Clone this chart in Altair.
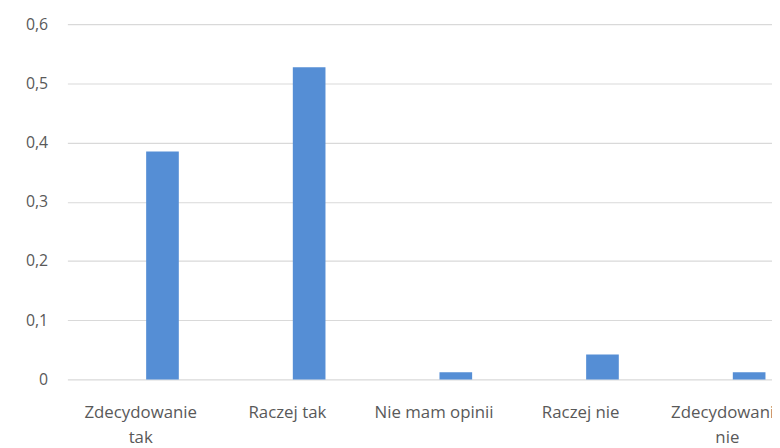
import altair as alt
import pandas as pd

categories = ["Zdecydowanie tak", "Raczej tak", "Nie mam opinii", "Raczej nie", "Zdecydowanie nie"]
values = [0.385, 0.527, 0.012, 0.042, 0.012]

df = pd.DataFrame({"kategoria": categories, "wartosc": values})

label_expr = "indexof(datum.label, 'Zdecydowanie') == 0 ? split(datum.label, ' ') : datum.label"
y_label_expr = "datum.value == 0 ? '0' : replace(format(datum.value, '.1f'), '.', ',')"

FONT = "Open Sans"

chart = alt.Chart(df).mark_bar(
    color="#558ED5", width=33, xOffset=22
).encode(
    x=alt.X(
        "kategoria:N",
        sort=categories,
        scale=alt.Scale(domain=categories, range=[0, 741], paddingInner=0, paddingOuter=0),
        axis=alt.Axis(
            title=None, labelAngle=0, domain=False, ticks=False,
            labelExpr=label_expr, labelFont=FONT, labelFontSize=17,
            labelColor="#595959", labelPadding=25, labelLineHeight=26,
            labelLimit=0, labelOverlap=False, labelFlush=False,
        ),
    ),
    y=alt.Y(
        "wartosc:Q",
        scale=alt.Scale(domain=[0, 0.6], nice=False),
        axis=alt.Axis(
            title=None, values=[0, 0.1, 0.2, 0.3, 0.4, 0.5, 0.6],
            labelExpr=y_label_expr, domain=False, ticks=False,
            gridColor="#D9D9D9", gridWidth=1.2, labelFont=FONT,
            labelFontSize=16, labelColor="#595959", labelPadding=20,
        ),
    ),
).properties(
    width=712,
    height=359,
    autosize=alt.AutoSizeParams(type="none"),
    padding={"left": 60, "top": 14, "right": 0, "bottom": 67},
).configure_view(stroke=None)

chart.save("out.html", embed_options={"renderer": "svg", "actions": False})
